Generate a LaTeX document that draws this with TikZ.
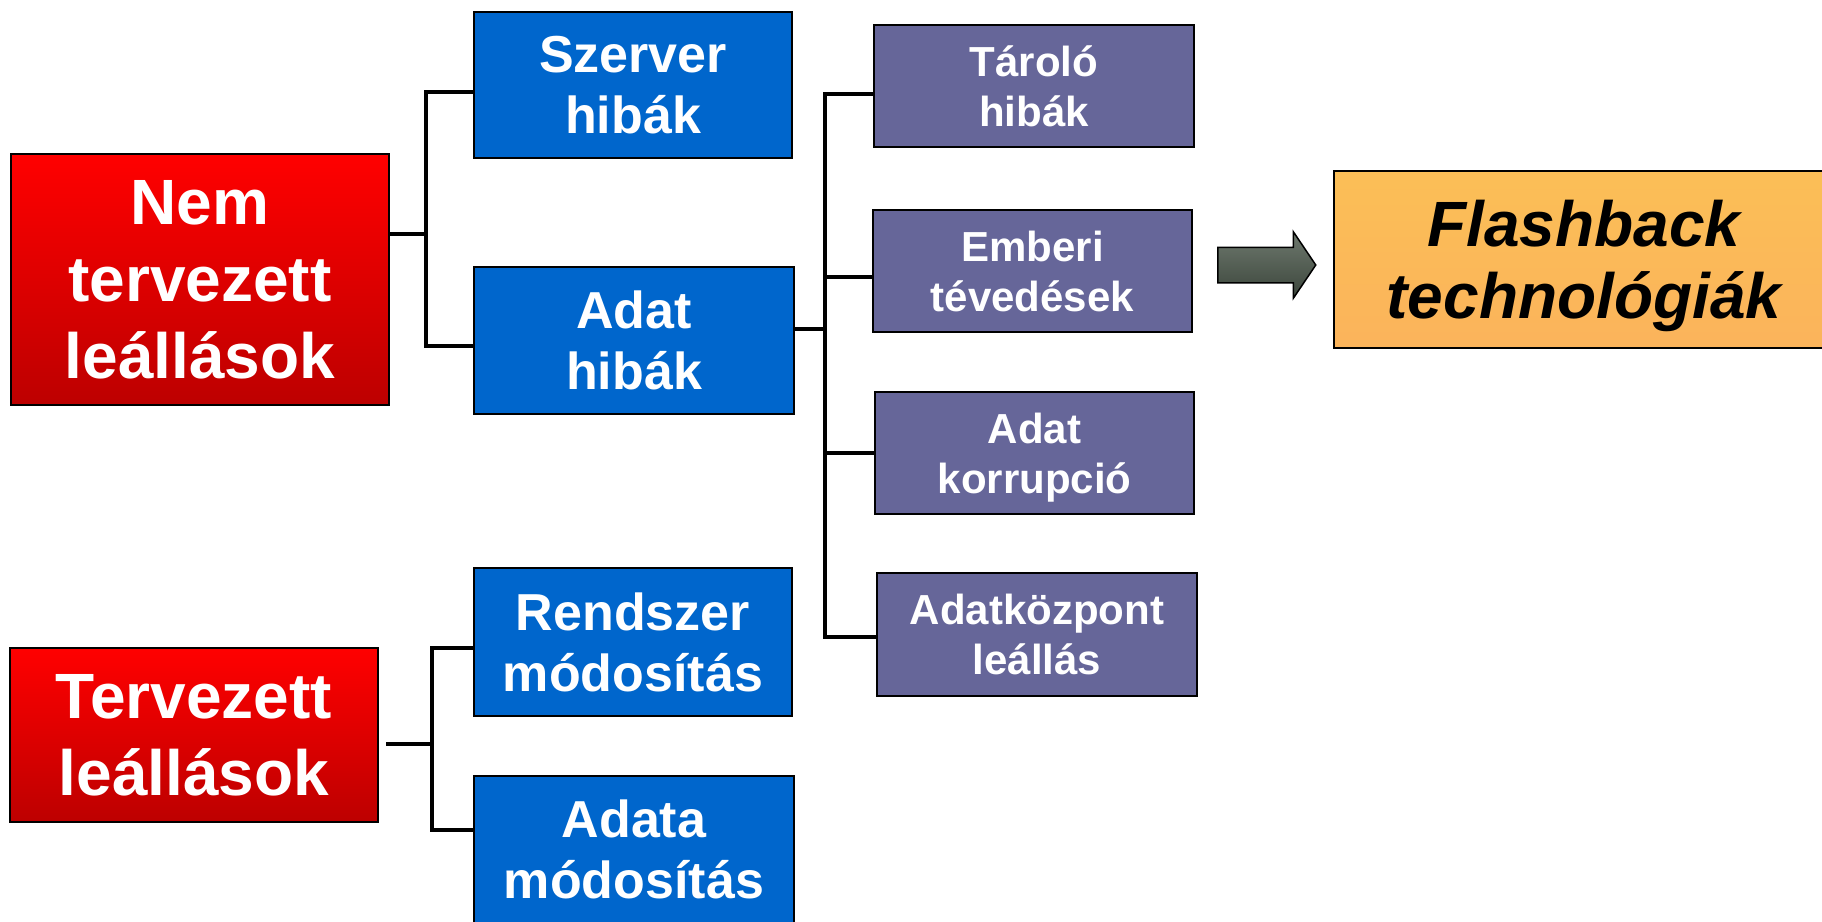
\documentclass[tikz,border=0pt]{standalone}
\usepackage{fontspec}
\setmainfont{Liberation Sans}
\usetikzlibrary{shapes.arrows}
\definecolor{cblue}{HTML}{0066CC}
\definecolor{cpurple}{HTML}{666699}
\definecolor{corange}{HTML}{FBB95E}
\definecolor{cgreen}{HTML}{4A574A}
\tikzstyle{box} = [draw=black, line width=2.5pt, align=center, inner sep=0pt, text depth=0pt]
\tikzstyle{cause} = [box, top color=red, bottom color=red!74!black, text=white, font={\bfseries\fontsize{64}{77}\selectfont}]
\tikzstyle{kind} = [box, fill=cblue, text=white, font={\bfseries\fontsize{52}{61}\selectfont}]
\tikzstyle{sub} = [box, fill=cpurple, text=white, font={\bfseries\fontsize{42}{50}\selectfont}]
\tikzstyle{tech} = [box, top color=corange!92!yellow, bottom color=corange!97!red, text=black, font={\bfseries\itshape\fontsize{64}{72}\selectfont}]
\tikzstyle{flow} = [draw=black, line width=1.5pt, single arrow, single arrow head extend=15.5pt, single arrow tip angle=112, inner xsep=0pt, inner ysep=17pt, top color=cgreen!80!white, bottom color=cgreen!80!black]
\tikzstyle{link} = [draw=black, line width=3.5pt]

\begin{document}
\begin{tikzpicture}[x=1pt,y=-1pt]
    \useasboundingbox (0,0) rectangle (1822,921);
    \node[cause,minimum width=378pt,minimum height=251pt](nt) at (200,279.5){Nem\\tervezett\\leállások};
    \node[cause,minimum width=368pt,minimum height=174pt](tv) at (194,735){Tervezett\\leállások};
    \node[kind,minimum width=318pt,minimum height=146pt](sz) at (633,85){Szerver\\hibák};
    \node[kind,minimum width=320pt,minimum height=147pt](ad) at (634,340.5){Adat\\hibák};
    \node[kind,minimum width=318pt,minimum height=148pt](rm) at (633,642){Rendszer\\módosítás};
    \node[kind,minimum width=320pt,minimum height=147pt](am) at (634,849.5){Adata\\módosítás};
    \node[sub,minimum width=320pt,minimum height=122pt](th) at (1034,86){Tároló\\hibák};
    \node[sub,minimum width=319pt,minimum height=122pt](eh) at (1032.5,271){Emberi\\tévedések};
    \node[sub,minimum width=319pt,minimum height=122pt](ak) at (1034.5,453){Adat\\korrupció};
    \node[sub,minimum width=320pt,minimum height=123pt](al) at (1037,634.5){Adatközpont\\leállás};
    \node[tech,minimum width=500pt,minimum height=177pt](fb) at (1584,259.5){Flashback\\technológiák};
    \node[flow,anchor=tail,minimum height=98pt](arr) at (1217,265){};
    % unplanned
    \coordinate (j1) at (426,234);
    \draw[link] (nt.east |- j1) -- (j1);
    \draw[link] ([yshift=-7pt]sz.west) -| (j1) |- ([yshift=-5.5pt]ad.west);
    % planned
    \coordinate (s2) at (386,744);
    \coordinate (j2) at (432,744);
    \draw[link] (s2) -- (j2);
    \draw[link] ([yshift=-6pt]rm.west) -| (j2) |- ([yshift=19.5pt]am.west);
    % data errors
    \coordinate (j3) at (825,329);
    \coordinate (t2) at (825,277);
    \coordinate (t3) at (825,453);
    \draw[link] (ad.east |- j3) -- (j3);
    \draw[link] ([yshift=-8pt]th.west) -| (j3) |- ([yshift=-2.5pt]al.west);
    \draw[link] (t2) -- (t2 -| eh.west);
    \draw[link] (t3) -- (t3 -| ak.west);
\end{tikzpicture}
\end{document}
